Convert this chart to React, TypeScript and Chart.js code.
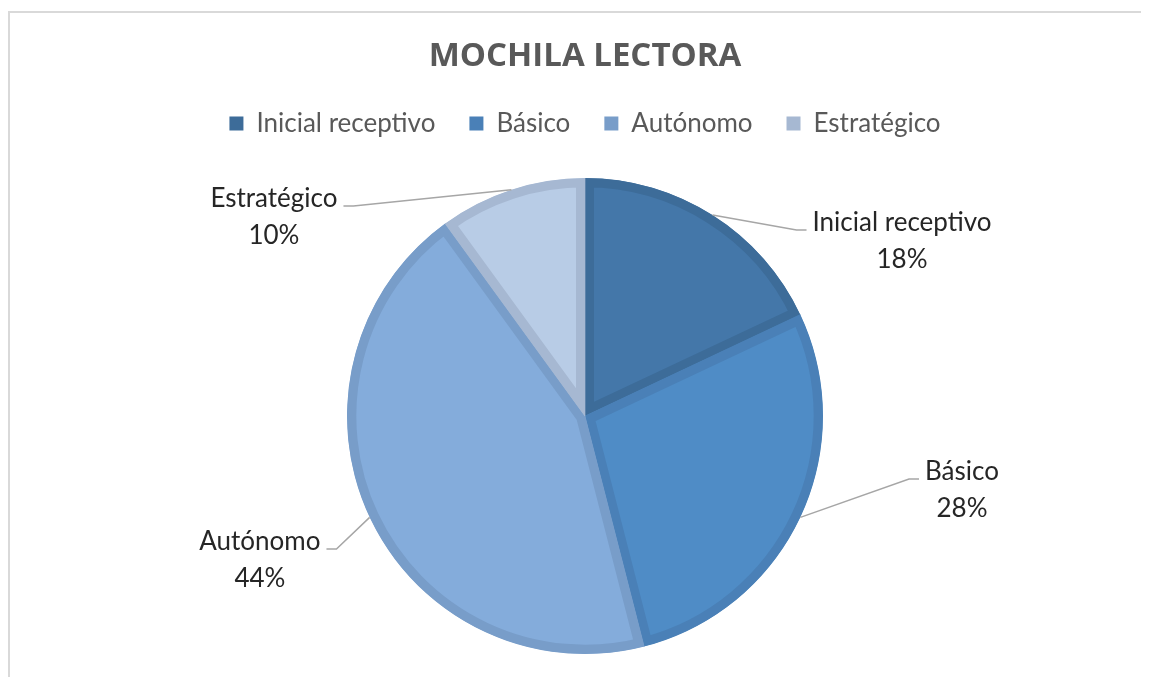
import React, { useEffect, useRef } from "react";
import { Chart, registerables } from "chart.js";

Chart.register(...registerables);

const chartTitle = "MOCHILA LECTORA";
const categories = ["Inicial receptivo", "Básico", "Autónomo", "Estratégico"];
const shares = [18, 28, 44, 10];
const fillColors = ["#4477a9", "#4f8cc6", "#84acdb", "#b8cce6"];
const edgeColors = ["#3d6c99", "#4a80b7", "#789dc9", "#a6b8d2"];
// label block centres, in units of the pie radius, relative to the pie centre
const labelPlacements = [
  { dx: 1.332, dy: -0.735 },
  { dx: 1.584, dy: 0.311 },
  { dx: -1.366, dy: 0.605 },
  { dx: -1.307, dy: -0.836 },
];

const LABEL_FONT = "26px Lato";

const outsideLabels = {
  id: "outsideLabels",
  afterDatasetsDraw(chart: any) {
    const ctx = chart.ctx as CanvasRenderingContext2D;
    const meta = chart.getDatasetMeta(0);
    const data = chart.data.datasets[0].data as number[];
    const total = data.reduce((a, b) => a + b, 0);
    ctx.save();
    ctx.font = LABEL_FONT;
    meta.data.forEach((arc: any, i: number) => {
      const p = arc.getProps(["x", "y", "startAngle", "endAngle", "outerRadius"], true);
      const mid = (p.startAngle + p.endAngle) / 2;
      const ex = p.x + Math.cos(mid) * p.outerRadius;
      const ey = p.y + Math.sin(mid) * p.outerRadius;
      const place = labelPlacements[i];
      const cx = p.x + place.dx * p.outerRadius;
      const cy = p.y + place.dy * p.outerRadius;
      const line1 = String(chart.data.labels[i]);
      const line2 = Math.round((data[i] / total) * 100) + "%";
      const w = Math.max(ctx.measureText(line1).width, ctx.measureText(line2).width);
      const right = place.dx > 0;
      const edgeX = right ? cx - w / 2 : cx + w / 2;
      const ly = cy - 11;
      const endX = right ? edgeX - 6 : edgeX + 6;
      const elbowX = right ? endX - 10 : endX + 10;
      ctx.strokeStyle = "#a6a6a6";
      ctx.lineWidth = 1.5;
      ctx.beginPath();
      ctx.moveTo(ex, ey);
      ctx.lineTo(elbowX, ly);
      ctx.lineTo(endX, ly);
      ctx.stroke();
      ctx.fillStyle = "#262626";
      ctx.textAlign = "center";
      ctx.textBaseline = "middle";
      ctx.fillText(line1, cx, cy - 18.5);
      ctx.fillText(line2, cx, cy + 18.5);
    });
    ctx.restore();
  },
};

export default function App() {
  const ref = useRef<HTMLCanvasElement | null>(null);
  useEffect(() => {
    if (!ref.current) return;
    const chart = new Chart(ref.current, {
      type: "pie",
      data: {
        labels: categories,
        datasets: [
          {
            data: shares,
            backgroundColor: fillColors,
            borderColor: edgeColors,
            borderWidth: 9,
            borderAlign: "inner",
          } as any,
        ],
      },
      options: {
        responsive: false,
        animation: false,
        radius: 238,
        layout: { padding: { top: 0, bottom: 17.6, left: 0, right: 0 } },
        plugins: {
          title: {
            display: true,
            text: chartTitle,
            color: "#595959",
            font: { family: "'Open Sans'", size: 33, weight: "bold" },
            padding: { top: 24, bottom: 0 },
          },
          legend: {
            position: "top",
            labels: {
              color: "#595959",
              font: { family: "Lato", size: 26 },
              boxWidth: 14,
              boxHeight: 14,
              padding: 34,
              generateLabels: (chart: any) =>
                chart.data.labels.map((l: string, i: number) => ({
                  text: l,
                  fillStyle: edgeColors[i],
                  strokeStyle: edgeColors[i],
                  lineWidth: 0,
                  fontColor: "#595959",
                  hidden: false,
                  index: i,
                })),
            },
          },
          tooltip: { enabled: false },
        },
      } as any,
      plugins: [outsideLabels],
    });
    return () => chart.destroy();
  }, []);

  return (
    <div style={{ width: 1141, height: 669, overflow: "hidden", position: "relative" }}>
      <div
        style={{
          position: "absolute",
          left: 0,
          top: 3,
          width: 1170,
          height: 700,
          borderLeft: "2px solid #d9d9d9",
          borderTop: "2px solid #d9d9d9",
          background: "#fff",
        }}
      >
        <canvas ref={ref} width={1150} height={690} style={{ display: "block" }} />
      </div>
    </div>
  );
}
